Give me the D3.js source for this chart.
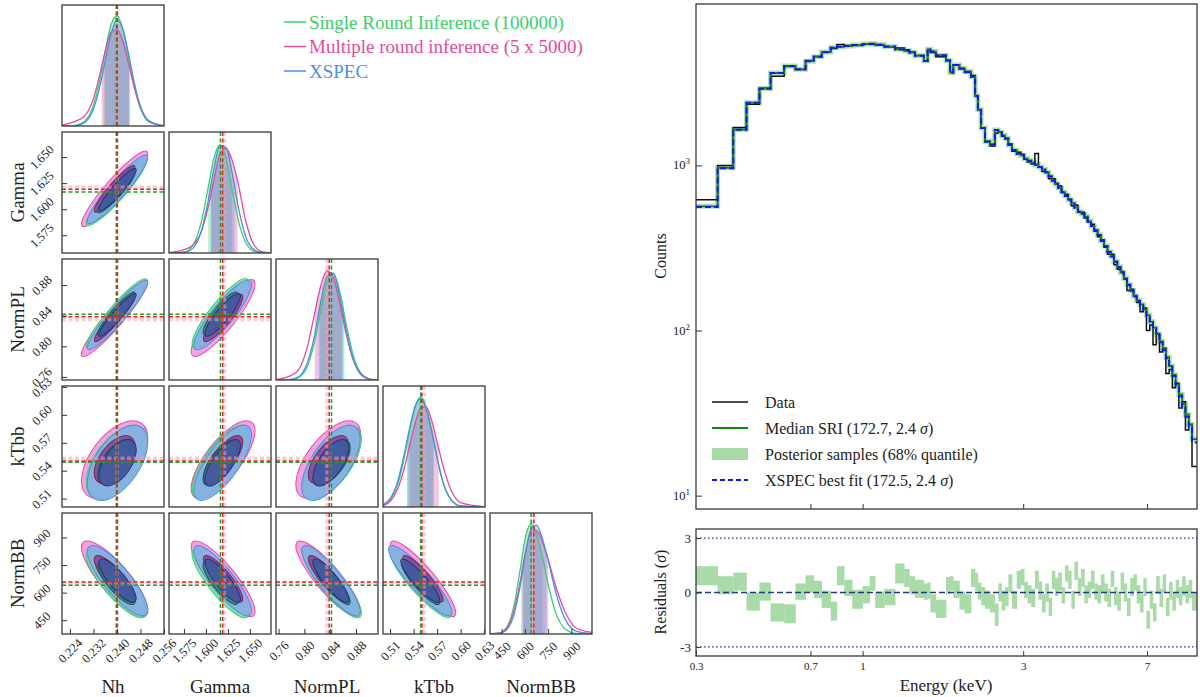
<!DOCTYPE html>
<html>
<head>
<meta charset="utf-8">
<script src="https://cdn.jsdelivr.net/npm/d3@7"></script>
<style>
  body { margin: 0; background: #fff; }
  svg text { font-family: "Liberation Serif", "DejaVu Serif", serif; fill: #222; }
</style>
</head>
<body>
<svg id="chart" width="1200" height="697"></svg>
<script>
// ---------------- corner plot data ----------------
const params = ["Nh", "Gamma", "NormPL", "kTbb", "NormBB"];
const paramRanges = [[0.2213, 0.2560], [1.558, 1.674], [0.756, 0.914], [0.501, 0.631], [375, 1033]];
const paramTicks = [
  [0.224, 0.232, 0.240, 0.248, 0.256],
  [1.575, 1.600, 1.625, 1.650],
  [0.76, 0.80, 0.84, 0.88],
  [0.51, 0.54, 0.57, 0.60, 0.63],
  [450, 600, 750, 900]
];
const tickFormats = [".3f", ".3f", ".2f", ".2f", "d"];
const minorSteps = [0.002, 0.00625, 0.01, 0.0075, 37.5];

const seriesNames = ["Single Round Inference (100000)", "Multiple round inference (5 x 5000)", "XSPEC"];
const seriesColors = ["#3ccf6e", "#e54c9c", "#4c8fe6"];

// posterior centres and widths used for the 2D contours
const sriMean = [0.2398, 1.6165, 0.843, 0.549, 650];
const mriMean = [0.2392, 1.6195, 0.837, 0.552, 675];
const xspecMean = [0.2402, 1.6190, 0.841, 0.5485, 665];
const sriSigma = [0.0042, 0.0132, 0.0185, 0.0160, 76];
const mriSigma = [0.0046, 0.0148, 0.0205, 0.0170, 84];
const xspecSigma = [0.0042, 0.0134, 0.0185, 0.0165, 78];
const corr = [
  [1.00, 0.93, 0.94, 0.55, -0.83],
  [0.93, 1.00, 0.88, 0.74, -0.86],
  [0.94, 0.88, 1.00, 0.64, -0.87],
  [0.55, 0.74, 0.64, 1.00, -0.90],
  [-0.83, -0.86, -0.87, -0.90, 1.00]
];

// 1D marginals (peak-scaled) read on a grid per parameter
const diagGrid = [
  [0.2213, 0.226, 0.229, 0.232, 0.234, 0.236, 0.238, 0.240, 0.242, 0.244, 0.246, 0.248, 0.251, 0.256],
  [1.558, 1.575, 1.585, 1.595, 1.602, 1.609, 1.616, 1.623, 1.630, 1.637, 1.645, 1.655, 1.665, 1.674],
  [0.756, 0.775, 0.790, 0.805, 0.815, 0.825, 0.835, 0.845, 0.855, 0.865, 0.875, 0.885, 0.900, 0.914],
  [0.501, 0.510, 0.520, 0.528, 0.535, 0.542, 0.549, 0.556, 0.563, 0.570, 0.578, 0.588, 0.600, 0.631],
  [375, 440, 490, 530, 570, 605, 640, 675, 710, 750, 800, 860, 930, 1033]
];
const sriDensity = [
  [0.000, 0.006, 0.043, 0.190, 0.400, 0.680, 0.920, 1.000, 0.880, 0.620, 0.350, 0.160, 0.034, 0.001],
  [0.000, 0.010, 0.070, 0.290, 0.570, 0.860, 0.985, 0.860, 0.570, 0.290, 0.100, 0.015, 0.002, 0.000],
  [0.000, 0.002, 0.020, 0.130, 0.330, 0.620, 0.890, 0.970, 0.800, 0.500, 0.240, 0.085, 0.011, 0.000],
  [0.005, 0.062, 0.210, 0.445, 0.700, 0.910, 1.000, 0.910, 0.700, 0.445, 0.210, 0.062, 0.008, 0.000],
  [0.002, 0.010, 0.078, 0.260, 0.590, 0.890, 1.000, 0.915, 0.720, 0.450, 0.190, 0.046, 0.005, 0.000]
];
const mriDensity = [
  [0.010, 0.045, 0.090, 0.250, 0.450, 0.680, 0.850, 0.880, 0.770, 0.560, 0.340, 0.170, 0.044, 0.002],
  [0.003, 0.030, 0.070, 0.200, 0.400, 0.660, 0.900, 0.950, 0.840, 0.620, 0.300, 0.070, 0.010, 0.002],
  [0.005, 0.030, 0.085, 0.310, 0.580, 0.850, 0.995, 0.930, 0.690, 0.410, 0.190, 0.073, 0.011, 0.000],
  [0.014, 0.050, 0.170, 0.350, 0.560, 0.760, 0.900, 0.910, 0.790, 0.590, 0.360, 0.150, 0.040, 0.002],
  [0.003, 0.011, 0.070, 0.210, 0.480, 0.750, 0.930, 0.940, 0.850, 0.680, 0.430, 0.200, 0.055, 0.015]
];
const xspecDensity = [
  [0.000, 0.004, 0.033, 0.155, 0.340, 0.590, 0.840, 0.960, 0.880, 0.650, 0.380, 0.180, 0.041, 0.001],
  [0.000, 0.005, 0.042, 0.205, 0.450, 0.760, 0.976, 0.956, 0.720, 0.410, 0.155, 0.028, 0.003, 0.000],
  [0.000, 0.002, 0.027, 0.165, 0.385, 0.700, 0.940, 0.970, 0.750, 0.450, 0.200, 0.068, 0.008, 0.000],
  [0.020, 0.076, 0.240, 0.475, 0.720, 0.915, 0.985, 0.890, 0.690, 0.445, 0.215, 0.067, 0.010, 0.000],
  [0.000, 0.007, 0.052, 0.180, 0.440, 0.730, 0.960, 0.990, 0.880, 0.670, 0.375, 0.135, 0.026, 0.002]
];
// 16% / 84% quantiles
const sriQuant = [[0.2355, 0.2441], [1.6025, 1.6295], [0.824, 0.862], [0.5325, 0.5655], [575, 715]];
const mriQuant = [[0.2348, 0.2441], [1.6060, 1.6360], [0.816, 0.858], [0.5350, 0.5720], [585, 750]];
const xspecQuant = [[0.2359, 0.2445], [1.6055, 1.6325], [0.822, 0.860], [0.5315, 0.5655], [590, 740]];

// reference lines
const sriLine = [0.2398, 1.6165, 0.8420, 0.5490, 640];
const xspecLine = [0.2401, 1.6190, 0.8385, 0.5505, 658];
const mriLine = [0.2400, 1.6210, 0.8350, 0.5535, 652];

// ---------------- spectrum data ----------------
const binEdges = [
  0.320, 0.371, 0.413, 0.452, 0.494, 0.533, 0.585, 0.632, 0.677, 0.716,
  0.756, 0.804, 0.839, 0.882, 0.931, 1.000, 1.050, 1.090, 1.160, 1.250,
  1.330, 1.377, 1.430, 1.520, 1.560, 1.590, 1.650, 1.770, 1.820, 1.860,
  1.940, 2.010, 2.100, 2.160, 2.200, 2.250, 2.310, 2.390, 2.470, 2.530,
  2.590, 2.650, 2.710, 2.780, 2.870, 2.950, 3.020, 3.090, 3.170, 3.250,
  3.330, 3.410, 3.490, 3.570, 3.650, 3.730, 3.810, 3.900, 3.990, 4.080,
  4.170, 4.260, 4.360, 4.460, 4.560, 4.660, 4.770, 4.880, 4.990, 5.100,
  5.220, 5.340, 5.460, 5.580, 5.710, 5.840, 5.970, 6.100, 6.240, 6.380,
  6.520, 6.670, 6.820, 6.970, 7.130, 7.290, 7.450, 7.620, 7.790, 7.960,
  8.140, 8.320, 8.510, 8.700, 8.900, 9.100, 9.310, 9.520, 9.850
];
const dataCounts = [
  620, 1000, 1700, 2350, 2930, 3470, 3980, 3810, 4320, 4570,
  4840, 5100, 5400, 5320, 5330, 5420, 5480, 5350, 5240, 5150,
  5020, 4860, 4640, 4310, 5030, 4830, 4560, 4340, 3680, 4050,
  3850, 3660, 3510, 2650, 2170, 1680, 1390, 1310, 1570, 1590,
  1500, 1450, 1350, 1220, 1200, 1170, 1090, 1050, 1020, 1180,
  975, 920, 905, 830, 830, 780, 750, 685, 670, 625,
  570, 575, 520, 520, 480, 455, 440, 400, 370, 355,
  320, 290, 290, 250, 235, 228, 205, 175, 178, 163,
  148, 130, 137, 100, 108, 82, 96, 74, 78, 55,
  58, 45, 48, 34, 37, 25, 27, 15
];
const sriMedian = [
  565, 968, 1650, 2400, 2920, 3630, 4000, 3820, 4280, 4560,
  4860, 5170, 5230, 5290, 5360, 5430, 5450, 5380, 5250, 5050,
  4950, 4830, 4620, 4300, 5050, 4900, 4650, 4320, 3650, 4060,
  3870, 3700, 3450, 2630, 2180, 1690, 1400, 1340, 1640, 1590,
  1520, 1460, 1330, 1240, 1180, 1150, 1100, 1070, 1040, 1010,
  980, 945, 910, 860, 810, 770, 730, 690, 655, 620,
  590, 555, 525, 510, 490, 460, 430, 405, 380, 350,
  325, 300, 282, 262, 243, 225, 207, 190, 175, 162,
  152, 144, 134, 124, 113, 104, 95, 86, 77, 69,
  61, 54, 47, 41, 36, 31, 27, 22
];
const xspecFit = [
  560, 962, 1645, 2395, 2915, 3625, 3995, 3820, 4275, 4555,
  4855, 5165, 5225, 5285, 5355, 5425, 5445, 5375, 5245, 5045,
  4945, 4825, 4615, 4295, 5045, 4895, 4645, 4315, 3645, 4055,
  3865, 3695, 3445, 2625, 2175, 1688, 1398, 1338, 1637, 1588,
  1518, 1458, 1328, 1238, 1178, 1148, 1098, 1068, 1038, 1008,
  978, 943, 908, 858, 808, 768, 729, 689, 654, 619,
  589, 554, 524, 509, 489, 459, 429, 404, 379, 349,
  324, 299, 281, 261, 242, 224, 206, 189, 174, 161,
  151, 143, 133, 123, 112, 103, 94, 85, 76, 68,
  60, 53, 46, 40, 35, 30, 26, 21
];
const resLow = [
  0.40, -0.10, 0.10, -1.00, -0.45, -1.60, -1.70, -0.40, 0.00, -0.30,
  -0.85, -1.55, 0.40, -0.20, -0.90, -0.60, 0.10, -0.85, -0.70, 0.50,
  0.30, -0.10, -0.30, -0.40, -0.35, -1.10, -1.40, -0.10, 0.10, -0.30,
  -0.95, -1.15, 0.30, 0.10, -0.40, -0.70, -0.90, -1.10, -1.85, -0.50,
  -1.00, -0.75, 0.00, -0.90, 0.20, 0.40, -0.30, -0.60, -0.80, 0.20,
  -0.40, -1.10, -0.50, -1.30, 0.20, -0.20, 0.10, -0.60, 0.60, 0.20,
  -0.90, 0.70, -0.20, 0.30, -0.60, -0.30, 0.20, -0.40, -0.60, 0.00,
  -0.50, -0.80, 0.30, -0.70, -1.00, 0.10, -0.50, -1.30, -0.20, 0.10,
  -0.60, -1.10, -0.20, -2.00, -0.90, -1.60, -0.10, -0.80, 0.00, -1.30,
  -0.40, -1.00, -0.30, -0.70, -0.20, -0.60, -0.30, -1.00
];
const resHigh = [
  1.45, 0.90, 1.10, 0.00, 0.55, -0.60, -0.65, 0.50, 0.95, 0.65,
  0.10, -0.50, 1.45, 0.70, 0.15, 0.35, 0.90, 0.05, 0.20, 1.60,
  1.30, 0.90, 0.70, 0.50, 0.55, -0.10, -0.40, 0.85, 0.90, 0.65,
  0.05, -0.10, 1.30, 1.10, 0.55, 0.30, 0.10, -0.10, -0.60, 0.50,
  0.10, 0.30, 1.00, 0.10, 1.20, 1.30, 0.60, 0.40, 0.20, 1.20,
  0.60, -0.10, 0.50, -0.30, 1.20, 0.80, 1.10, 0.30, 1.50, 1.20,
  0.10, 1.70, 0.80, 1.30, 0.40, 0.60, 1.20, 0.50, 0.40, 1.00,
  0.50, 0.20, 1.20, 0.30, 0.00, 1.10, 0.50, -0.30, 0.80, 1.00,
  0.40, -0.10, 0.80, -1.00, 0.10, -0.60, 0.90, 0.20, 1.00, -0.30,
  0.60, 0.00, 0.70, 0.30, 0.90, 0.40, 0.70, 0.00
];
const energyTicks = [0.32, 0.7, 1, 3, 7];
const energyMinor = [0.4, 0.5, 0.6, 0.8, 0.9, 2, 4, 5, 6, 8, 9];
const countTicks = [10, 100, 1000];
const countMinor = [9, 20, 30, 40, 50, 60, 70, 80, 90, 200, 300, 400, 500, 600, 700, 800, 900,
  2000, 3000, 4000, 5000, 6000, 7000, 8000, 9000];
const residualTicks = [-3, 0, 3];
const residualMinor = [-2, -1, 1, 2];

const FONT = "'Liberation Serif', 'Times New Roman', serif";
const svg = d3.select("#chart");
const defs = svg.append("defs");

// ================= corner plot =================
const cellW = 102, cellH = 121;
const colX = i => 62 + i * 107;
const rowY = j => 5 + j * 127;
const xScales = paramRanges.map((r, i) => d3.scaleLinear().domain(r).range([colX(i), colX(i) + cellW]));
const yScales = paramRanges.map((r, j) => d3.scaleLinear().domain(r).range([rowY(j) + cellH, rowY(j)]));

const sri = { color: seriesColors[0], outer: "#6fdc98", inner: "#2f7f6c", innerStroke: "#1d5c48",
  mean: sriMean, sigma: sriSigma, dens: sriDensity, quant: sriQuant };
const mri = { color: seriesColors[1], outer: "#f18fdc", inner: "#80418f", innerStroke: "#8a1f55",
  mean: mriMean, sigma: mriSigma, dens: mriDensity, quant: mriQuant };
const xsp = { color: seriesColors[2], outer: "#86abec", inner: "#4654a6", innerStroke: "#27337a",
  mean: xspecMean, sigma: xspecSigma, dens: xspecDensity, quant: xspecQuant };

function minorTicks(range, step) {
  const n = Math.floor((range[1] - range[0]) / step) + 2;
  const start = Math.ceil(range[0] / step) * step;
  return d3.range(n).map(k => start + k * step).filter(v => v >= range[0] && v <= range[1]);
}

function drawEllipse(g, xs, ys, mx, my, sx, sy, rho, k, fill, stroke) {
  const kx = Math.abs(xs(1) - xs(0)), ky = Math.abs(ys(1) - ys(0));
  const sxp = sx * kx, syp = sy * ky;
  const a = sxp * sxp, c = syp * syp, b = -rho * sxp * syp;
  const t = Math.sqrt(((a - c) / 2) ** 2 + b * b);
  const l1 = (a + c) / 2 + t, l2 = Math.max((a + c) / 2 - t, 0.01);
  const theta = 0.5 * Math.atan2(2 * b, a - c) * 180 / Math.PI;
  g.append("ellipse")
    .attr("transform", `translate(${xs(mx)},${ys(my)}) rotate(${theta})`)
    .attr("rx", k * Math.sqrt(l1)).attr("ry", k * Math.sqrt(l2))
    .attr("fill", fill).attr("fill-opacity", 0.82)
    .attr("stroke", stroke).attr("stroke-width", 1);
}

function vLine(g, x, y0, y1, color, width, opacity) {
  g.append("line").attr("x1", x).attr("x2", x).attr("y1", y0).attr("y2", y1)
    .attr("stroke", color).attr("stroke-width", width).attr("stroke-opacity", opacity)
    .attr("stroke-dasharray", "4,2.5");
}
function hLine(g, y, x0, x1, color, width, opacity) {
  g.append("line").attr("y1", y).attr("y2", y).attr("x1", x0).attr("x2", x1)
    .attr("stroke", color).attr("stroke-width", width).attr("stroke-opacity", opacity)
    .attr("stroke-dasharray", "4,2.5");
}

for (let j = 0; j < 5; j++) {
  for (let i = 0; i <= j; i++) {
    const x0 = colX(i), y0 = rowY(j);
    const id = `cell${i}${j}`;
    defs.append("clipPath").attr("id", id).append("rect")
      .attr("x", x0).attr("y", y0).attr("width", cellW).attr("height", cellH);
    const g = svg.append("g");
    const inner = g.append("g").attr("clip-path", `url(#${id})`);
    const xs = xScales[i];

    if (i === j) {
      const yd = d3.scaleLinear().domain([0, 1.1]).range([y0 + cellH, y0]);
      const area = d3.area().x(d => xs(d[0])).y0(yd(0)).y1(d => yd(d[1])).curve(d3.curveMonotoneX);
      const line = d3.line().x(d => xs(d[0])).y(d => yd(d[1])).curve(d3.curveMonotoneX);
      [sri, mri, xsp].forEach((s, si) => {
        const qid = `q${i}${si}`;
        defs.append("clipPath").attr("id", qid).append("rect")
          .attr("x", xs(s.quant[i][0])).attr("y", y0)
          .attr("width", xs(s.quant[i][1]) - xs(s.quant[i][0])).attr("height", cellH);
        const pts = diagGrid[i].map((x, k) => [x, s.dens[i][k]]);
        inner.append("path").attr("d", area(pts)).attr("fill", s.color)
          .attr("fill-opacity", 0.33).attr("clip-path", `url(#${qid})`);
      });
      vLine(inner, xs(mriLine[i]), y0, y0 + cellH, "#f4a0b4", 3.5, 0.55);
      [sri, mri, xsp].forEach(s => {
        const pts = diagGrid[i].map((x, k) => [x, s.dens[i][k]]);
        inner.append("path").attr("d", line(pts)).attr("fill", "none")
          .attr("stroke", s.color).attr("stroke-width", 1.3);
      });
      vLine(inner, xs(sriLine[i]), y0, y0 + cellH, "#2a9a2a", 1.5, 1);
      vLine(inner, xs(xspecLine[i]), y0, y0 + cellH, "#ee2222", 1.5, 1);
    } else {
      const ys = yScales[j];
      const rho = corr[i][j];
      [mri, sri, xsp].forEach(s => {
        drawEllipse(inner, xs, ys, s.mean[i], s.mean[j], s.sigma[i], s.sigma[j], rho, 2.45, s.outer, s.color);
      });
      [mri, sri, xsp].forEach(s => {
        drawEllipse(inner, xs, ys, s.mean[i], s.mean[j], s.sigma[i], s.sigma[j], rho, 1.51, s.inner, s.innerStroke);
      });
      vLine(inner, xs(mriLine[i]), y0, y0 + cellH, "#f4a0b4", 3.5, 0.55);
      hLine(inner, ys(mriLine[j]), x0, x0 + cellW, "#f4a0b4", 3.5, 0.55);
      vLine(inner, xs(sriLine[i]), y0, y0 + cellH, "#2a9a2a", 1.5, 1);
      hLine(inner, ys(sriLine[j]), x0, x0 + cellW, "#2a9a2a", 1.5, 1);
      vLine(inner, xs(xspecLine[i]), y0, y0 + cellH, "#ee2222", 1.5, 1);
      hLine(inner, ys(xspecLine[j]), x0, x0 + cellW, "#ee2222", 1.5, 1);

      if (i === 0) {
        // left axis with rotated labels
        const ax = g.append("g").attr("transform", `translate(${x0},0)`);
        ax.call(d3.axisLeft(ys).tickValues(minorTicks(paramRanges[j], minorSteps[j])).tickSize(-2.5).tickFormat(""));
        ax.call(d3.axisLeft(ys).tickValues(paramTicks[j]).tickSize(-5).tickFormat(d3.format(tickFormats[j])));
        ax.select(".domain").remove();
        ax.selectAll("line").attr("stroke", "#333");
        ax.selectAll("text")
          .attr("x", null).attr("dy", null)
          .attr("text-anchor", "middle").attr("dominant-baseline", "central")
          .attr("transform", "translate(-20,0) rotate(-45)")
          .style("font-size", "12.5px");
      }
    }

    if (j === 4) {
      const ax = g.append("g").attr("transform", `translate(0,${y0 + cellH})`);
      ax.call(d3.axisBottom(xs).tickValues(minorTicks(paramRanges[i], minorSteps[i])).tickSize(-2.5).tickFormat(""));
      ax.call(d3.axisBottom(xs).tickValues(paramTicks[i]).tickSize(-5).tickFormat(d3.format(tickFormats[i])));
      ax.select(".domain").remove();
      ax.selectAll("line").attr("stroke", "#333");
      ax.selectAll("text")
        .attr("y", null).attr("dy", null)
        .attr("text-anchor", "middle").attr("dominant-baseline", "central")
        .attr("transform", "translate(0,17) rotate(-45)")
        .style("font-size", "12.5px");
    }

    g.append("rect").attr("x", x0).attr("y", y0).attr("width", cellW).attr("height", cellH)
      .attr("fill", "none").attr("stroke", "#3a3a3a").attr("stroke-width", 1.3);
  }
}

// axis titles
params.forEach((p, i) => {
  svg.append("text").attr("x", colX(i) + cellW / 2).attr("y", 686)
    .attr("text-anchor", "middle").attr("dominant-baseline", "central")
    .style("font-size", "19px").text(p);
  if (i > 0) {
    svg.append("text")
      .attr("transform", `translate(17,${rowY(i) + cellH / 2}) rotate(-90)`)
      .attr("text-anchor", "middle").attr("dominant-baseline", "central")
      .style("font-size", "19px").text(p);
  }
});

// corner legend
seriesNames.forEach((name, k) => {
  const y = 22 + k * 24.5;
  svg.append("line").attr("x1", 284).attr("x2", 306).attr("y1", y).attr("y2", y)
    .attr("stroke", seriesColors[k]).attr("stroke-width", 1.5);
  svg.append("text").attr("x", 309).attr("y", y).attr("dominant-baseline", "central")
    .style("font-size", "19px").style("fill", seriesColors[k]).text(name);
});

// ================= spectrum =================
const mainX = d3.scaleLog().domain([0.32, 9.85]).range([696, 1197]);
const mainY = d3.scaleLog().domain([8.3, 9500]).range([509, 4]);
const resY = d3.scaleLinear().domain([-3.5, 3.5]).range([656, 529]);

defs.append("clipPath").attr("id", "mainClip").append("rect")
  .attr("x", 696).attr("y", 4).attr("width", 501).attr("height", 505);
defs.append("clipPath").attr("id", "resClip").append("rect")
  .attr("x", 696).attr("y", 529).attr("width", 501).attr("height", 127);

function stepPoints(vals) {
  const pts = vals.map((v, i) => [binEdges[i], v]);
  pts.push([binEdges[vals.length], vals[vals.length - 1]]);
  return pts;
}
const stepLine = d3.line().x(d => mainX(d[0])).y(d => mainY(d[1])).curve(d3.curveStepAfter);

const mainG = svg.append("g").attr("clip-path", "url(#mainClip)");
mainG.append("path").attr("d", stepLine(stepPoints(sriMedian))).attr("fill", "none")
  .attr("stroke", "#b2dfb2").attr("stroke-width", 5);
mainG.append("path").attr("d", stepLine(stepPoints(dataCounts))).attr("fill", "none")
  .attr("stroke", "#111").attr("stroke-width", 1.5);
mainG.append("path").attr("d", stepLine(stepPoints(sriMedian))).attr("fill", "none")
  .attr("stroke", "#0a8a0a").attr("stroke-width", 1.8);
mainG.append("path").attr("d", stepLine(stepPoints(xspecFit))).attr("fill", "none")
  .attr("stroke", "#1515ff").attr("stroke-width", 2).attr("stroke-dasharray", "6,3");

// main axes
const mainLeft = svg.append("g").attr("transform", "translate(696,0)");
mainLeft.call(d3.axisLeft(mainY).tickValues(countMinor).tickSize(-3).tickFormat(""));
mainLeft.call(d3.axisLeft(mainY).tickValues(countTicks).tickSize(-6).tickFormat(""));
mainLeft.select(".domain").remove();
mainLeft.selectAll("line").attr("stroke", "#333");
countTicks.forEach(v => {
  const t = svg.append("text").attr("x", 690).attr("y", mainY(v) + 4)
    .attr("text-anchor", "end").style("font-size", "12.5px");
  t.append("tspan").text("10");
  t.append("tspan").attr("dy", -5).style("font-size", "9px").text(String(Math.round(Math.log10(v))));
});
const mainBottom = svg.append("g").attr("transform", "translate(0,509)");
mainBottom.call(d3.axisBottom(mainX).tickValues(energyMinor).tickSize(-3).tickFormat(""));
mainBottom.call(d3.axisBottom(mainX).tickValues(energyTicks.slice(1)).tickSize(-5).tickFormat(""));
mainBottom.select(".domain").remove();
mainBottom.selectAll("line").attr("stroke", "#333");
svg.append("rect").attr("x", 696).attr("y", 4).attr("width", 501).attr("height", 505)
  .attr("fill", "none").attr("stroke", "#3a3a3a").attr("stroke-width", 1.3);

svg.append("text").attr("transform", "translate(660,256) rotate(-90)")
  .attr("text-anchor", "middle").attr("dominant-baseline", "central")
  .style("font-size", "16px").text("Counts");

// spectrum legend
const legY = [402, 428, 454, 480];
svg.append("line").attr("x1", 712).attr("x2", 748).attr("y1", legY[0]).attr("y2", legY[0])
  .attr("stroke", "#111").attr("stroke-width", 1.5);
svg.append("line").attr("x1", 712).attr("x2", 748).attr("y1", legY[1]).attr("y2", legY[1])
  .attr("stroke", "#0a8a0a").attr("stroke-width", 2);
svg.append("rect").attr("x", 712).attr("y", legY[2] - 6).attr("width", 36).attr("height", 12)
  .attr("fill", "#a9dba9");
svg.append("line").attr("x1", 712).attr("x2", 748).attr("y1", legY[3]).attr("y2", legY[3])
  .attr("stroke", "#1515ff").attr("stroke-width", 2).attr("stroke-dasharray", "5,3");
const legTexts = [["Data", ""], ["Median SRI (172.7, 2.4 ", ")"], ["Posterior samples (68% quantile)", ""],
  ["XSPEC best fit (172.5, 2.4 ", ")"]];
legTexts.forEach((t, k) => {
  const tx = svg.append("text").attr("x", 765).attr("y", legY[k]).attr("dominant-baseline", "central")
    .style("font-size", "16px");
  tx.append("tspan").text(t[0]);
  if (t[1]) {
    tx.append("tspan").style("font-style", "italic").text("σ");
    tx.append("tspan").text(t[1]);
  }
});

// residuals
const resG = svg.append("g").attr("clip-path", "url(#resClip)");
resG.selectAll("rect").data(resLow).join("rect")
  .attr("x", (d, i) => mainX(binEdges[i]))
  .attr("width", (d, i) => mainX(binEdges[i + 1]) - mainX(binEdges[i]) + 0.3)
  .attr("y", (d, i) => resY(resHigh[i]))
  .attr("height", (d, i) => resY(resLow[i]) - resY(resHigh[i]))
  .attr("fill", "#a9dba9");
[-3, 3].forEach(v => {
  resG.append("line").attr("x1", 696).attr("x2", 1197).attr("y1", resY(v)).attr("y2", resY(v))
    .attr("stroke", "#1f3c80").attr("stroke-width", 1.2).attr("stroke-dasharray", "1.5,2.5");
});
resG.append("line").attr("x1", 696).attr("x2", 1197).attr("y1", resY(0)).attr("y2", resY(0))
  .attr("stroke", "#1f3c80").attr("stroke-width", 1.5).attr("stroke-dasharray", "6,3");

const resLeft = svg.append("g").attr("transform", "translate(696,0)");
resLeft.call(d3.axisLeft(resY).tickValues(residualMinor).tickSize(-3).tickFormat(""));
resLeft.call(d3.axisLeft(resY).tickValues(residualTicks).tickSize(-5).tickFormat(d => String(d)));
resLeft.select(".domain").remove();
resLeft.selectAll("line").attr("stroke", "#333");
resLeft.selectAll("text").style("font-size", "13px").attr("x", -5);

const resBottom = svg.append("g").attr("transform", "translate(0,656)");
resBottom.call(d3.axisBottom(mainX).tickValues(energyMinor).tickSize(-3).tickFormat(""));
resBottom.call(d3.axisBottom(mainX).tickValues(energyTicks).tickSize(-5).tickFormat(d3.format(".1r")));
resBottom.select(".domain").remove();
resBottom.selectAll("line").attr("stroke", "#333");
resBottom.selectAll("text").style("font-size", "11px").attr("y", 6);
svg.append("rect").attr("x", 696).attr("y", 529).attr("width", 501).attr("height", 127)
  .attr("fill", "none").attr("stroke", "#3a3a3a").attr("stroke-width", 1.3);

const resTitle = svg.append("text").attr("transform", "translate(660,592) rotate(-90)")
  .attr("text-anchor", "middle").attr("dominant-baseline", "central").style("font-size", "16px");
resTitle.append("tspan").text("Residuals (");
resTitle.append("tspan").style("font-style", "italic").text("σ");
resTitle.append("tspan").text(")");

svg.append("text").attr("x", 946).attr("y", 685).attr("text-anchor", "middle")
  .attr("dominant-baseline", "central").style("font-size", "17px").text("Energy (keV)");

// one serif family for every label
svg.selectAll("text").style("font-family", FONT).style("font-weight", "normal");
svg.selectAll("text:not([style*='fill'])").style("fill", "#222");
</script>
</body>
</html>
